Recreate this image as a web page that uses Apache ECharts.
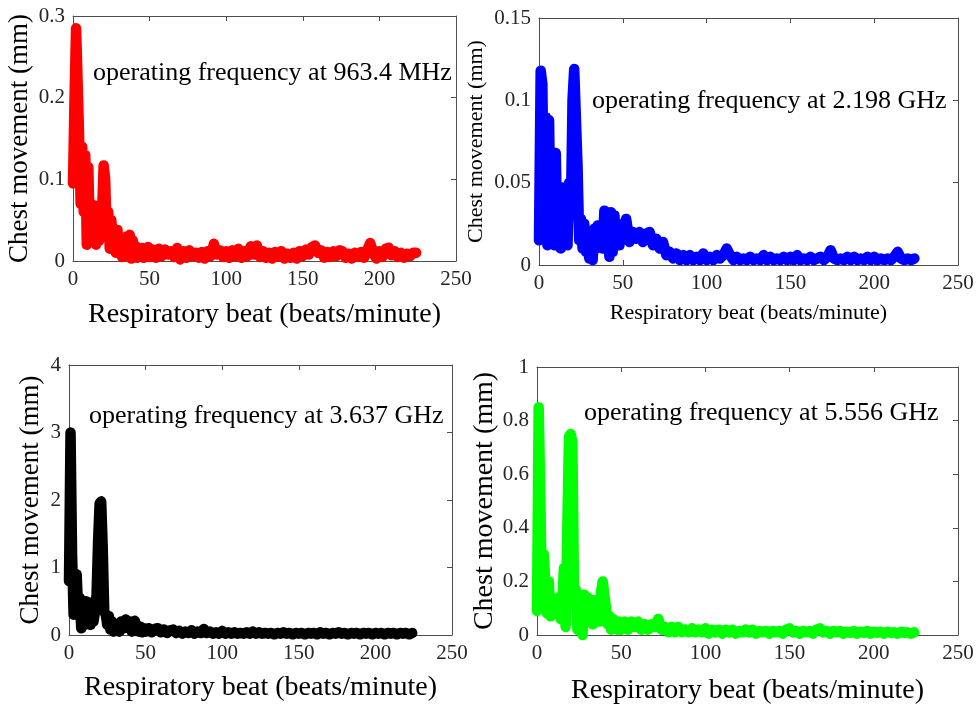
<!DOCTYPE html>
<html>
<head>
<meta charset="utf-8">
<title>Chest movement spectra</title>
<script src="https://cdn.jsdelivr.net/npm/echarts@6/dist/echarts.min.js"></script>
<style>
  html, body { margin: 0; padding: 0; background: #fff; }
  #main { width: 978px; height: 709px; }
</style>
</head>
<body>
<div id="main"></div>
<script>
// respiratory beat (beats/minute), shared by the four spectra
var beats = [
    0, 1, 2, 3, 4, 5, 6, 7, 8, 9,
    10, 11, 12, 13, 14, 15, 16, 17, 18, 19,
    20, 21, 22, 23, 24, 25, 26, 27, 28, 29,
    30, 31, 32, 33, 34, 35, 36, 37, 38, 39,
    40, 41, 42, 43, 44, 45, 46, 47, 48, 49,
    50, 52, 54, 56, 58, 60, 62, 64, 66, 68,
    70, 72, 74, 76, 78, 80, 82, 84, 86, 88,
    90, 92, 94, 96, 98, 100, 102, 104, 106, 108,
    110, 112, 114, 116, 118, 120, 122, 124, 126, 128,
    130, 132, 134, 136, 138, 140, 142, 144, 146, 148,
    150, 152, 154, 156, 158, 160, 162, 164, 166, 168,
    170, 172, 174, 176, 178, 180, 182, 184, 186, 188,
    190, 192, 194, 196, 198, 200, 202, 204, 206, 208,
    210, 212, 214, 216, 218, 220, 222, 224
];

// chest movement (mm) at 963.4 MHz
var move963MHz = [
    0.095, 0.20, 0.285, 0.22, 0.15, 0.07, 0.14, 0.06, 0.13, 0.02,
    0.115, 0.03, 0.065, 0.03, 0.068, 0.02, 0.066, 0.025, 0.05, 0.06,
    0.117, 0.10, 0.03, 0.06, 0.015, 0.05, 0.02, 0.035, 0.01, 0.038,
    0.012, 0.028, 0.005, 0.025, 0.01, 0.03, 0.008, 0.032, 0.003, 0.025,
    0.012, 0.018, 0.004, 0.015, 0.006, 0.016, 0.004, 0.014, 0.008, 0.017,
    0.005, 0.014, 0.004, 0.015, 0.006, 0.014, 0.008, 0.012, 0.005, 0.016,
    0.002, 0.012, 0.004, 0.013, 0.006, 0.01, 0.004, 0.011, 0.003, 0.012,
    0.006, 0.021, 0.008, 0.013, 0.005, 0.012, 0.004, 0.013, 0.006, 0.015,
    0.004, 0.012, 0.006, 0.018, 0.008, 0.019, 0.005, 0.012, 0.004, 0.01,
    0.003, 0.011, 0.006, 0.012, 0.003, 0.009, 0.004, 0.01, 0.003, 0.012,
    0.006, 0.014, 0.008, 0.017, 0.019, 0.01, 0.013, 0.004, 0.011, 0.005,
    0.012, 0.006, 0.013, 0.012, 0.004, 0.009, 0.003, 0.01, 0.005, 0.011,
    0.004, 0.013, 0.022, 0.01, 0.003, 0.012, 0.005, 0.015, 0.016, 0.007,
    0.012, 0.005, 0.01, 0.004, 0.009, 0.006, 0.01, 0.01
];

// chest movement (mm) at 2.198 GHz
var move2198GHz = [
    0.015, 0.118, 0.11, 0.02, 0.09, 0.012, 0.088, 0.015, 0.04, 0.012,
    0.068, 0.015, 0.045, 0.01, 0.047, 0.013, 0.035, 0.012, 0.05, 0.03,
    0.1, 0.119, 0.118, 0.06, 0.015, 0.028, 0.01, 0.025, 0.008, 0.018,
    0.004, 0.015, 0.003, 0.022, 0.01, 0.024, 0.012, 0.02, 0.01, 0.033,
    0.033, 0.02, 0.005, 0.032, 0.008, 0.03, 0.015, 0.025, 0.012, 0.024,
    0.016, 0.028, 0.014, 0.02, 0.016, 0.02, 0.014, 0.019, 0.02, 0.012,
    0.016, 0.01, 0.014, 0.006, 0.008, 0.004, 0.007, 0.003, 0.006, 0.003,
    0.006, 0.003, 0.005, 0.003, 0.007, 0.003, 0.005, 0.003, 0.006, 0.004,
    0.006, 0.01, 0.006, 0.003, 0.005, 0.003, 0.004, 0.003, 0.005, 0.003,
    0.004, 0.003, 0.006, 0.003, 0.005, 0.003, 0.004, 0.003, 0.005, 0.003,
    0.005, 0.003, 0.006, 0.003, 0.004, 0.003, 0.005, 0.003, 0.004, 0.005,
    0.003, 0.005, 0.009, 0.004, 0.003, 0.004, 0.003, 0.005, 0.003, 0.005,
    0.003, 0.004, 0.003, 0.005, 0.003, 0.005, 0.003, 0.004, 0.003, 0.004,
    0.003, 0.005, 0.008, 0.004, 0.003, 0.004, 0.003, 0.004
];

// chest movement (mm) at 3.637 GHz
var move3637GHz = [
    0.8, 3.0, 1.2, 0.3, 0.85, 0.9, 0.35, 0.55, 0.1, 0.5,
    0.15, 0.5, 0.2, 0.48, 0.15, 0.4, 0.2, 0.35, 0.6, 1.4,
    1.95, 1.98, 1.3, 0.35, 0.3, 0.15, 0.28, 0.08, 0.2, 0.05,
    0.15, 0.06, 0.12, 0.05, 0.2, 0.22, 0.1, 0.23, 0.24, 0.12,
    0.2, 0.05, 0.18, 0.21, 0.06, 0.14, 0.05, 0.12, 0.04, 0.1,
    0.05, 0.1, 0.04, 0.09, 0.1, 0.04, 0.08, 0.03, 0.07, 0.08,
    0.03, 0.06, 0.02, 0.05, 0.03, 0.07, 0.02, 0.05, 0.03, 0.09,
    0.03, 0.05, 0.02, 0.04, 0.02, 0.06, 0.02, 0.04, 0.02, 0.04,
    0.02, 0.03, 0.02, 0.04, 0.02, 0.05, 0.02, 0.04, 0.02, 0.03,
    0.02, 0.03, 0.01, 0.03, 0.02, 0.04, 0.02, 0.03, 0.01, 0.03,
    0.02, 0.03, 0.01, 0.03, 0.02, 0.03, 0.01, 0.04, 0.02, 0.03,
    0.01, 0.03, 0.02, 0.04, 0.02, 0.03, 0.01, 0.03, 0.02, 0.03,
    0.01, 0.03, 0.02, 0.03, 0.01, 0.03, 0.02, 0.03, 0.01, 0.03,
    0.02, 0.03, 0.01, 0.03, 0.02, 0.03, 0.01, 0.03
];

// chest movement (mm) at 5.556 GHz
var move5556GHz = [
    0.09, 0.85, 0.5, 0.1, 0.3, 0.3, 0.08, 0.2, 0.07, 0.12,
    0.08, 0.13, 0.09, 0.14, 0.06, 0.12, 0.25, 0.03, 0.4, 0.74,
    0.75, 0.72, 0.15, 0.17, 0.02, 0.14, 0.06, 0.0, 0.15, 0.05,
    0.14, 0.07, 0.13, 0.04, 0.13, 0.06, 0.11, 0.05, 0.16, 0.2,
    0.2, 0.1, 0.04, 0.07, 0.02, 0.06, 0.03, 0.05, 0.02, 0.05,
    0.02, 0.05, 0.02, 0.05, 0.03, 0.05, 0.02, 0.04, 0.02, 0.04,
    0.03, 0.06, 0.02, 0.03, 0.01, 0.03, 0.01, 0.03, 0.01, 0.02,
    0.01, 0.025, 0.01, 0.02, 0.01, 0.025, 0.005, 0.02, 0.01, 0.02,
    0.005, 0.02, 0.01, 0.02, 0.005, 0.015, 0.01, 0.02, 0.01, 0.02,
    0.005, 0.015, 0.01, 0.015, 0.005, 0.015, 0.01, 0.015, 0.005, 0.02,
    0.025, 0.01, 0.015, 0.005, 0.015, 0.01, 0.015, 0.005, 0.02, 0.025,
    0.01, 0.015, 0.005, 0.015, 0.01, 0.015, 0.005, 0.012, 0.008, 0.015,
    0.005, 0.012, 0.008, 0.015, 0.005, 0.012, 0.008, 0.012, 0.005, 0.012,
    0.008, 0.01, 0.005, 0.012, 0.008, 0.01, 0.005, 0.01
];

var notes = [
    'operating frequency at 963.4 MHz',
    'operating frequency at 2.198 GHz',
    'operating frequency at 3.637 GHz',
    'operating frequency at 5.556 GHz'
];

var serif = '"Liberation Serif", "Times New Roman", serif';
var boxColor = '#4d4d4d';
var textColor = '#262626';

var panels = [
    {values: move963MHz, color: '#ff0000', yMax: 0.3, yStep: 0.1,
     grid: {left: 73, top: 16, width: 383, height: 245},
     xName: 28, xGap: 40, yName: 27, yGap: 40, noteX: 93, noteY: 74},
    {values: move2198GHz, color: '#0000ff', yMax: 0.15, yStep: 0.05,
     grid: {left: 539, top: 18, width: 419, height: 247},
     xName: 22, xGap: 37, yName: 22, yGap: 52, noteX: 592, noteY: 102},
    {values: move3637GHz, color: '#000000', yMax: 4, yStep: 1,
     grid: {left: 69, top: 365, width: 383, height: 270},
     xName: 28, xGap: 39, yName: 27, yGap: 25, noteX: 89, noteY: 417},
    {values: move5556GHz, color: '#00ff00', yMax: 1, yStep: 0.2,
     grid: {left: 537, top: 367, width: 421, height: 268},
     xName: 28, xGap: 42, yName: 28, yGap: 34, noteX: 584, noteY: 414}
];

function boxAxis(i, pos, extra) {
    var axis = {
        gridIndex: i,
        type: 'value',
        position: pos,
        axisLine: {show: true, onZero: false, lineStyle: {color: boxColor, width: 1}},
        axisTick: {show: true, inside: true, length: 5, lineStyle: {color: boxColor}},
        axisLabel: {show: false},
        splitLine: {show: false}
    };
    return Object.assign(axis, extra);
}

var grids = [], xAxes = [], yAxes = [], series = [], texts = [];

panels.forEach(function (p, i) {
    grids.push(p.grid);

    var xRange = {min: 0, max: 250, interval: 50};
    var yRange = {min: 0, max: p.yMax, interval: p.yStep};

    xAxes.push(boxAxis(i, 'bottom', Object.assign({
        axisLabel: {show: true, fontFamily: serif, fontSize: 21, color: textColor, margin: 8},
        name: 'Respiratory beat (beats/minute)',
        nameLocation: 'middle',
        nameGap: p.xGap,
        nameTextStyle: {fontFamily: serif, fontSize: p.xName, color: '#000'}
    }, xRange)));
    xAxes.push(boxAxis(i, 'top', Object.assign({}, xRange)));

    yAxes.push(boxAxis(i, 'left', Object.assign({
        axisLabel: {show: true, fontFamily: serif, fontSize: 21, color: textColor, margin: 8},
        name: 'Chest movement (mm)',
        nameLocation: 'middle',
        nameGap: p.yGap,
        nameTextStyle: {fontFamily: serif, fontSize: p.yName, color: '#000'}
    }, yRange)));
    yAxes.push(boxAxis(i, 'right', Object.assign({}, yRange)));

    series.push({
        type: 'line',
        xAxisIndex: i * 2,
        yAxisIndex: i * 2,
        data: beats.map(function (b, k) { return [b, p.values[k]]; }),
        showSymbol: false,
        clip: false,
        lineStyle: {color: p.color, width: 10.5, cap: 'round', join: 'round'},
        z: 1
    });

    texts.push({
        type: 'text',
        left: p.noteX,
        top: p.noteY - 14,
        style: {
            text: notes[i],
            font: '26px ' + serif,
            fill: '#000'
        },
        z: 10
    });
});

var chart = echarts.init(document.getElementById('main'), null, {renderer: 'canvas'});
chart.setOption({
    animation: false,
    backgroundColor: '#ffffff',
    grid: grids,
    xAxis: xAxes,
    yAxis: yAxes,
    series: series,
    graphic: texts
});
</script>
</body>
</html>
